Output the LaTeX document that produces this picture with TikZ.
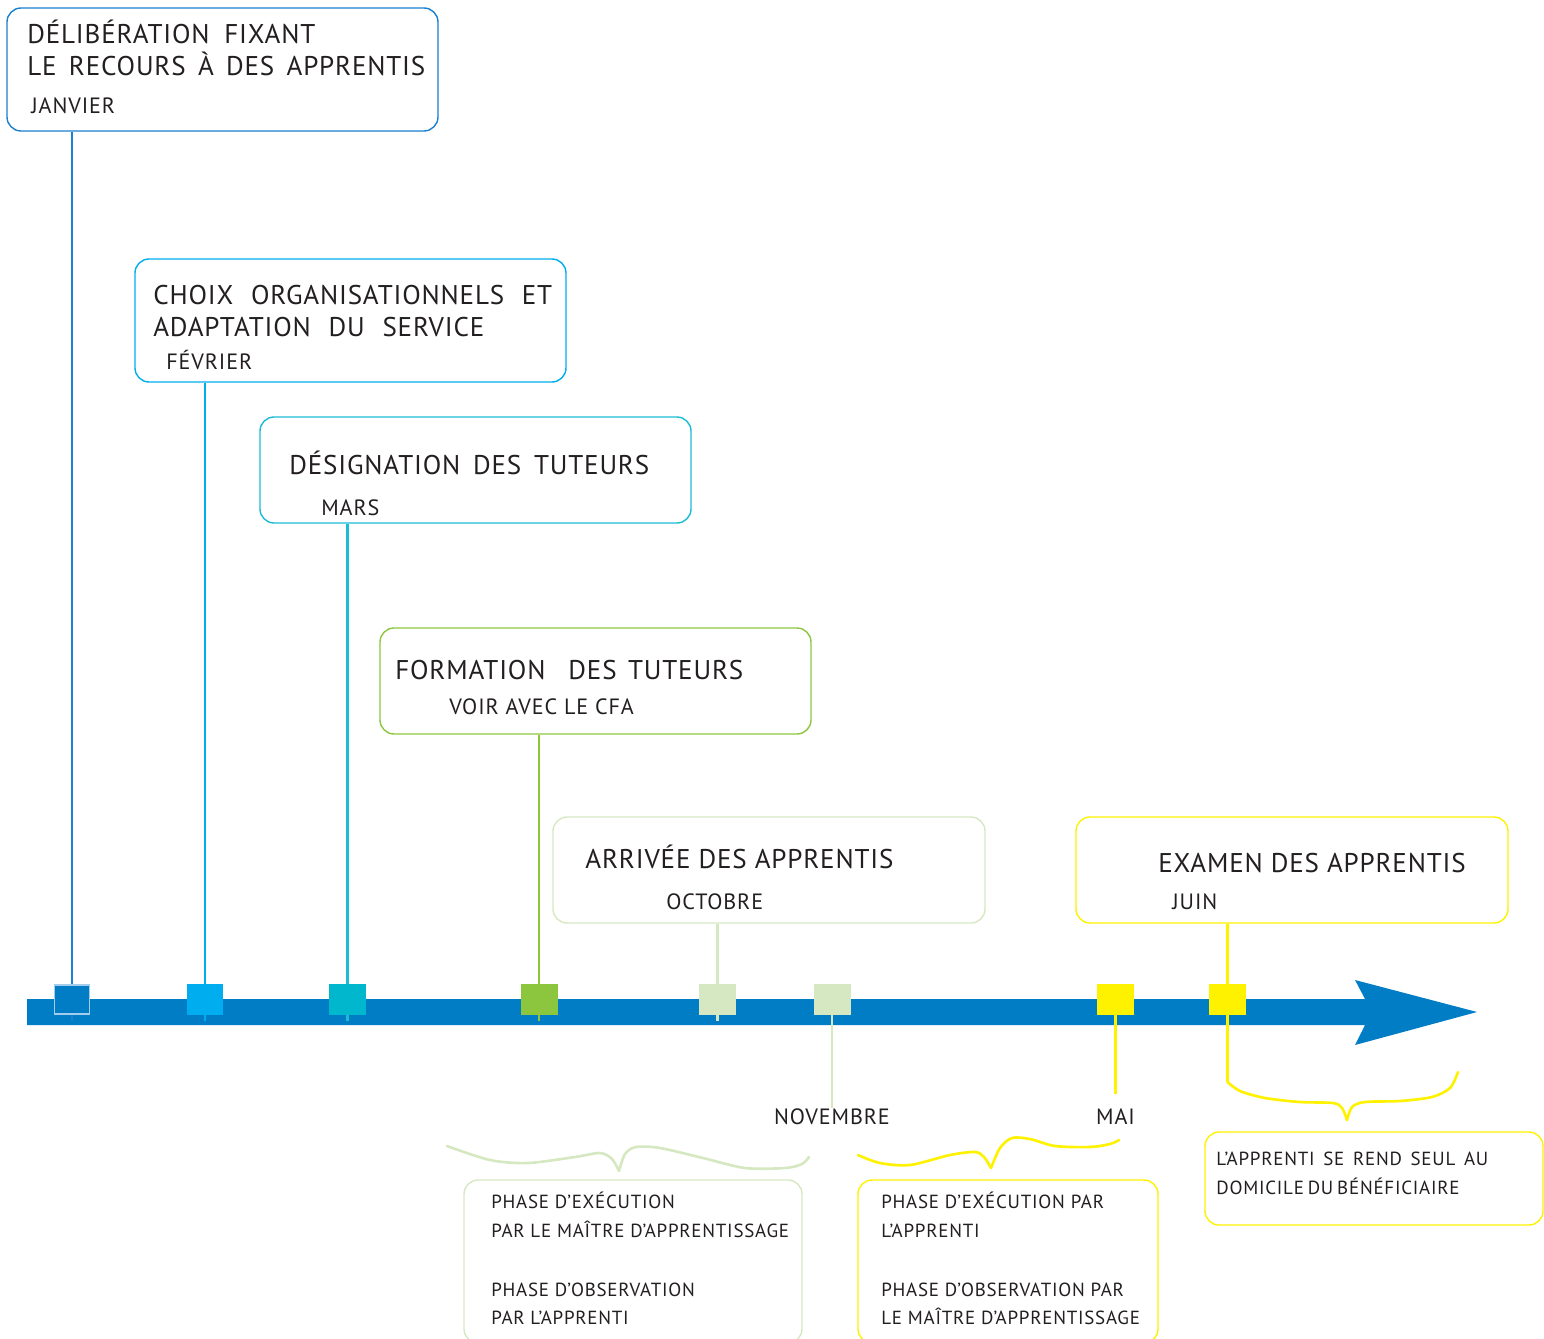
\documentclass[tikz,border=0pt]{standalone}
\usepackage{fontspec}
\setmainfont{PT Sans}
\newfontfamily\bigfont[LetterSpace=3]{PT Sans}
\newfontfamily\smallfont[LetterSpace=4]{PT Sans}
\usetikzlibrary{fit}

\definecolor{ink}{HTML}{231F20}
\definecolor{barblue}{HTML}{007DC5}
\definecolor{cjan}{HTML}{1B80CF}
\definecolor{cfeb}{HTML}{00AEEF}
\definecolor{cmar}{HTML}{1BBCD4}
\definecolor{cmarsq}{HTML}{00B7CE}
\definecolor{cfor}{HTML}{8CC63F}
\definecolor{coct}{HTML}{D6E8C1}
\definecolor{cjun}{HTML}{FFF200}

% one line stretched to a given width
\newcommand{\fitline}[2]{\makebox[#1][s]{#2}}

\begin{document}
\begin{tikzpicture}[x=0.02cm, y=-0.02cm,
evbox/.style={draw, rounded corners=8pt, line width=0.8pt, inner sep=0pt},
tick/.style={minimum width=0.74cm, minimum height=0.62cm, inner sep=0pt},
bigtxt/.style={anchor=base west, inner sep=0pt, text=ink, font=\bigfont\fontsize{15.4}{18}\selectfont},
monthtxt/.style={anchor=base west, inner sep=0pt, text=ink, font=\smallfont\fontsize{12.6}{15}\selectfont},
smalltxt/.style={anchor=base west, inner sep=0pt, text=ink, font=\smallfont\fontsize{10.8}{13}\selectfont},
stem/.style={line width=1.3pt},
brace/.style={line width=1.5pt, line cap=round}
]
    \useasboundingbox (0,0) rectangle (1544,1338);

    % boxes
    \node [evbox, draw=cjan, fit={(7,8) (438,131)}] (jan) {};
    \node [bigtxt] (jan1) at (27,44) {\fitline{5.76cm}{DÉLIBÉRATION FIXANT}};
    \node [bigtxt] (jan2) at (27,76) {\fitline{7.96cm}{LE RECOURS À DES APPRENTIS}};
    \node [monthtxt] (janM) at (31,114) {JANVIER};

    \node [evbox, draw=cfeb, fit={(135,259) (566,382)}] (feb) {};
    \node [bigtxt] (feb1) at (153,304) {\fitline{7.98cm}{CHOIX ORGANISATIONNELS ET}};
    \node [bigtxt] (feb2) at (153,336) {\fitline{6.62cm}{ADAPTATION DU SERVICE}};
    \node [monthtxt] (febM) at (166,369) {FÉVRIER};

    \node [evbox, draw=cmar, fit={(260,417) (691,523)}] (mar) {};
    \node [bigtxt] (mar1) at (289,474) {\fitline{7.2cm}{DÉSIGNATION DES TUTEURS}};
    \node [monthtxt] (marM) at (321,515) {MARS};

    \node [evbox, draw=cfor, fit={(380,628) (811,734)}] (for) {};
    \node [bigtxt] (for1) at (395,679) {\fitline{6.96cm}{FORMATION\ \ DES TUTEURS}};
    \node [monthtxt] (forM) at (449,714) {VOIR AVEC LE CFA};

    \node [evbox, draw=coct, fit={(553,817) (985,923)}] (oct) {};
    \node [bigtxt] (oct1) at (585,868) {ARRIVÉE DES APPRENTIS};
    \node [monthtxt] (octM) at (666,909) {OCTOBRE};

    \node [evbox, draw=cjun, fit={(1076,817) (1508,923)}] (jun) {};
    \node [bigtxt] (jun1) at (1158,872) {EXAMEN DES APPRENTIS};
    \node [monthtxt] (junM) at (1172,909) {JUIN};

    % time axis
    \fill [barblue] (27,999) -- (1365,999) -- (1355,980) -- (1477,1012) -- (1355,1045)
        -- (1365,1025) -- (27,1025) -- cycle;

    \node [tick] (sq1) at (72,999.5) {};
    \node [tick] (sq2) at (205,999.5) {};
    \node [tick] (sq3) at (347.5,999.5) {};
    \node [tick] (sq4) at (539,999.5) {};
    \node [tick] (sq5) at (717.5,999.5) {};
    \node [tick] (sq6) at (832,999.5) {};
    \node [tick] (sq7) at (1115.5,999.5) {};
    \node [tick] (sq8) at (1227.5,999.5) {};

    \node [monthtxt, anchor=base] (nov) at (832,1124) {NOVEMBRE};
    \node [monthtxt, anchor=base] (mai) at (1115.5,1124) {MAI};
    \coordinate (b3a) at (1227.5,1082);

    \draw [stem, cjan] (jan.south -| sq1) -- ([yshift=-3pt]sq1.south);
    \draw [stem, cfeb] (feb.south -| sq2) -- ([yshift=-3pt]sq2.south);
    \draw [stem, cmar] (mar.south -| sq3) -- ([yshift=-3pt]sq3.south);
    \draw [stem, cfor] (for.south -| sq4) -- ([yshift=-3pt]sq4.south);
    \draw [stem, coct] (oct.south -| sq5) -- ([yshift=-3pt]sq5.south);
    \draw [stem, coct] (sq6) -- (nov.north);
    \draw [stem, cjun] (sq7) -- ([yshift=8pt]mai.north);
    \draw [stem, cjun] (jun.south -| sq8) -- (b3a);

    \node [tick, fill=barblue, draw=cjan!40, line width=0.6pt, minimum width=0.7cm, minimum height=0.58cm] at (sq1) {};
    \node [tick, fill=cfeb] at (sq2) {};
    \node [tick, fill=cmarsq] at (sq3) {};
    \node [tick, fill=cfor] at (sq4) {};
    \node [tick, fill=coct] at (sq5) {};
    \node [tick, fill=coct] at (sq6) {};
    \node [tick, fill=cjun] at (sq7) {};
    \node [tick, fill=cjun] at (sq8) {};

    % braces
    \draw [brace, coct] plot [smooth] coordinates {(447,1146) (490,1160) (528,1163) (575,1157) (600,1153) (612,1159) (619,1171)};
    \draw [brace, coct] plot [smooth] coordinates {(619,1171) (625,1154) (636,1147) (660,1148) (703,1158) (745,1168) (785,1168) (802,1164) (809,1157)};

    \draw [brace, cjun] plot [smooth] coordinates {(858,1155) (880,1163) (910,1165) (950,1155) (975,1152) (984,1157) (991,1168)};
    \draw [brace, cjun] plot [smooth] coordinates {(991,1168) (1000,1148) (1012,1138) (1030,1139) (1055,1146) (1090,1147) (1110,1144) (1119,1140)};

    \draw [brace, cjun] plot [smooth] coordinates {(b3a) (1240,1091) (1265,1098) (1300,1102) (1333,1103) (1342,1108) (1347,1120)};
    \draw [brace, cjun] plot [smooth] coordinates {(1347,1120) (1352,1107) (1365,1102) (1400,1101) (1432,1097) (1450,1088) (1458,1072)};

    % phase boxes
    \node [evbox, draw=coct, fit={(464,1180) (802,1343)}] (ph1) {};
    \node [smalltxt] (ph1a) at (491,1208) {PHASE D’EXÉCUTION};
    \node [smalltxt] (ph1b) at (491,1237) {PAR LE MAÎTRE D’APPRENTISSAGE};
    \node [smalltxt] (ph1c) at (491,1296) {PHASE D’OBSERVATION};
    \node [smalltxt] (ph1d) at (491,1324) {PAR L’APPRENTI};

    \node [evbox, draw=cjun, fit={(858,1180) (1158,1343)}] (ph2) {};
    \node [smalltxt] (ph2a) at (881,1208) {PHASE D’EXÉCUTION PAR};
    \node [smalltxt] (ph2b) at (881,1237) {L’APPRENTI};
    \node [smalltxt] (ph2c) at (881,1296) {PHASE D’OBSERVATION PAR};
    \node [smalltxt] (ph2d) at (881,1324) {LE MAÎTRE D’APPRENTISSAGE};

    \node [evbox, draw=cjun, fit={(1205,1132) (1543,1225)}] (ph3) {};
    \node [smalltxt] (ph3a) at (1216,1165) {\fitline{5.44cm}{L’APPRENTI SE REND SEUL AU}};
    \node [smalltxt] (ph3b) at (1216,1194) {\fitline{4.82cm}{DOMICILE DU BÉNÉFICIAIRE}};
\end{tikzpicture}
\end{document}
